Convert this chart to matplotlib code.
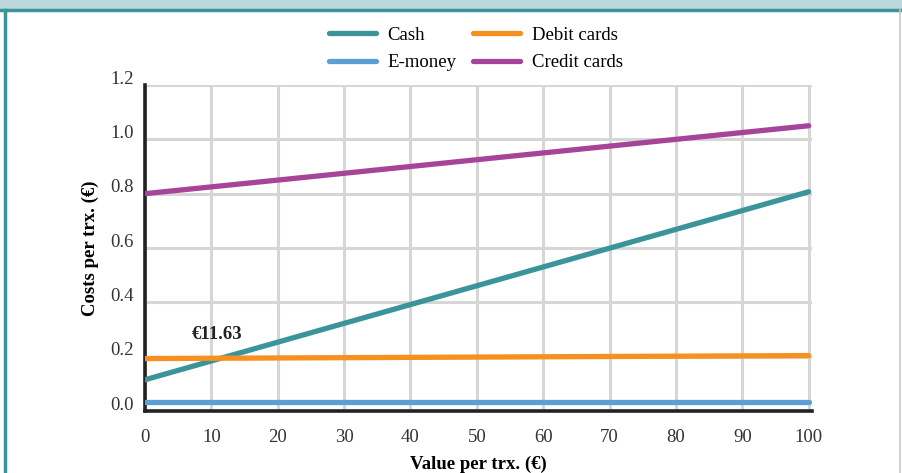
import numpy as np
import matplotlib
matplotlib.use("Agg")
import matplotlib.pyplot as plt
from matplotlib.lines import Line2D
from matplotlib.patches import Rectangle
from matplotlib.transforms import ScaledTranslation

# Data ---------------------------------------------------------------
value = [0, 100]                 # value per transaction (EUR)
cash = [0.115, 0.807]
emoney = [0.033, 0.033]
debit = [0.193, 0.204]
credit = [0.800, 1.050]

series = ["Cash", "E-money", "Debit cards", "Credit cards"]
colors = ["#3a9499", "#5aa0d6", "#f7901e", "#a6449a"]

xticks = np.arange(0, 101, 10)
yticks = [0.0, 0.2, 0.4, 0.6, 0.8, 1.0, 1.2]
break_even = 11.63

# Figure -------------------------------------------------------------
plt.rcParams["font.family"] = ["Liberation Serif", "DejaVu Serif"]

fig = plt.figure(figsize=(9.03, 4.73), dpi=100)
ax = fig.add_axes([145 / 903, 1 - 411 / 473, 667 / 903, 326 / 473])

for vals, name, col in zip([cash, emoney, debit, credit], series, colors):
    ax.plot(value, vals, color=col, lw=3.8, solid_capstyle="round",
            label=name, zorder=3)

ax.set_xlim(0, 100.5)
ax.set_ylim(0, 1.2)
ax.set_xticks(xticks)
ax.set_yticks(yticks)
ax.set_yticklabels(["{:.1f}".format(t) for t in yticks])
ax.tick_params(length=0, labelsize=13.5, colors="#333333")
ax.tick_params(axis="y", pad=8)
ax.tick_params(axis="x", pad=13)

# y labels sit a little above their gridlines in the original
for lab in ax.get_yticklabels():
    lab.set_transform(lab.get_transform() + ScaledTranslation(0, 0.08, fig.dpi_scale_trans))

ax.grid(True, color="#d6d6d6", lw=2.2, zorder=0)
for s in ["top", "right"]:
    ax.spines[s].set_visible(False)
for s in ["left", "bottom"]:
    ax.spines[s].set_linewidth(2.6)
    ax.spines[s].set_color("#222222")

ax.set_xlabel("Value per trx. (€)", fontsize=13.5, fontweight="bold", labelpad=7)
ax.set_ylabel("Costs per trx. (€)", fontsize=13.5, fontweight="bold", labelpad=8)

ax.text(break_even - 0.7, 0.28, "€{:.2f}".format(break_even), ha="center",
        va="center", fontsize=13.5, fontweight="bold", color="#222222")

fig.legend(loc="center", bbox_to_anchor=(476 / 903, 1 - 49 / 473), ncol=2,
           frameon=False, fontsize=13.5, handlelength=2.5, handletextpad=0.6,
           columnspacing=0.9, labelspacing=0.55)

# frame of the original figure box
fig.patches.append(Rectangle((0, 1 - 9 / 473), 1, 9 / 473, transform=fig.transFigure,
                             color="#bdd6db", zorder=0))
fig.lines.append(Line2D([0, 1], [1 - 10 / 473] * 2, transform=fig.transFigure,
                        color="#3a9499", lw=2.5))
fig.lines.append(Line2D([5 / 903] * 2, [0, 1 - 10 / 473], transform=fig.transFigure,
                        color="#3a9499", lw=2.5))
fig.lines.append(Line2D([900 / 903] * 2, [0, 1 - 10 / 473], transform=fig.transFigure,
                        color="#c8c8c8", lw=1.2))

plt.savefig("out.png", dpi=100)
